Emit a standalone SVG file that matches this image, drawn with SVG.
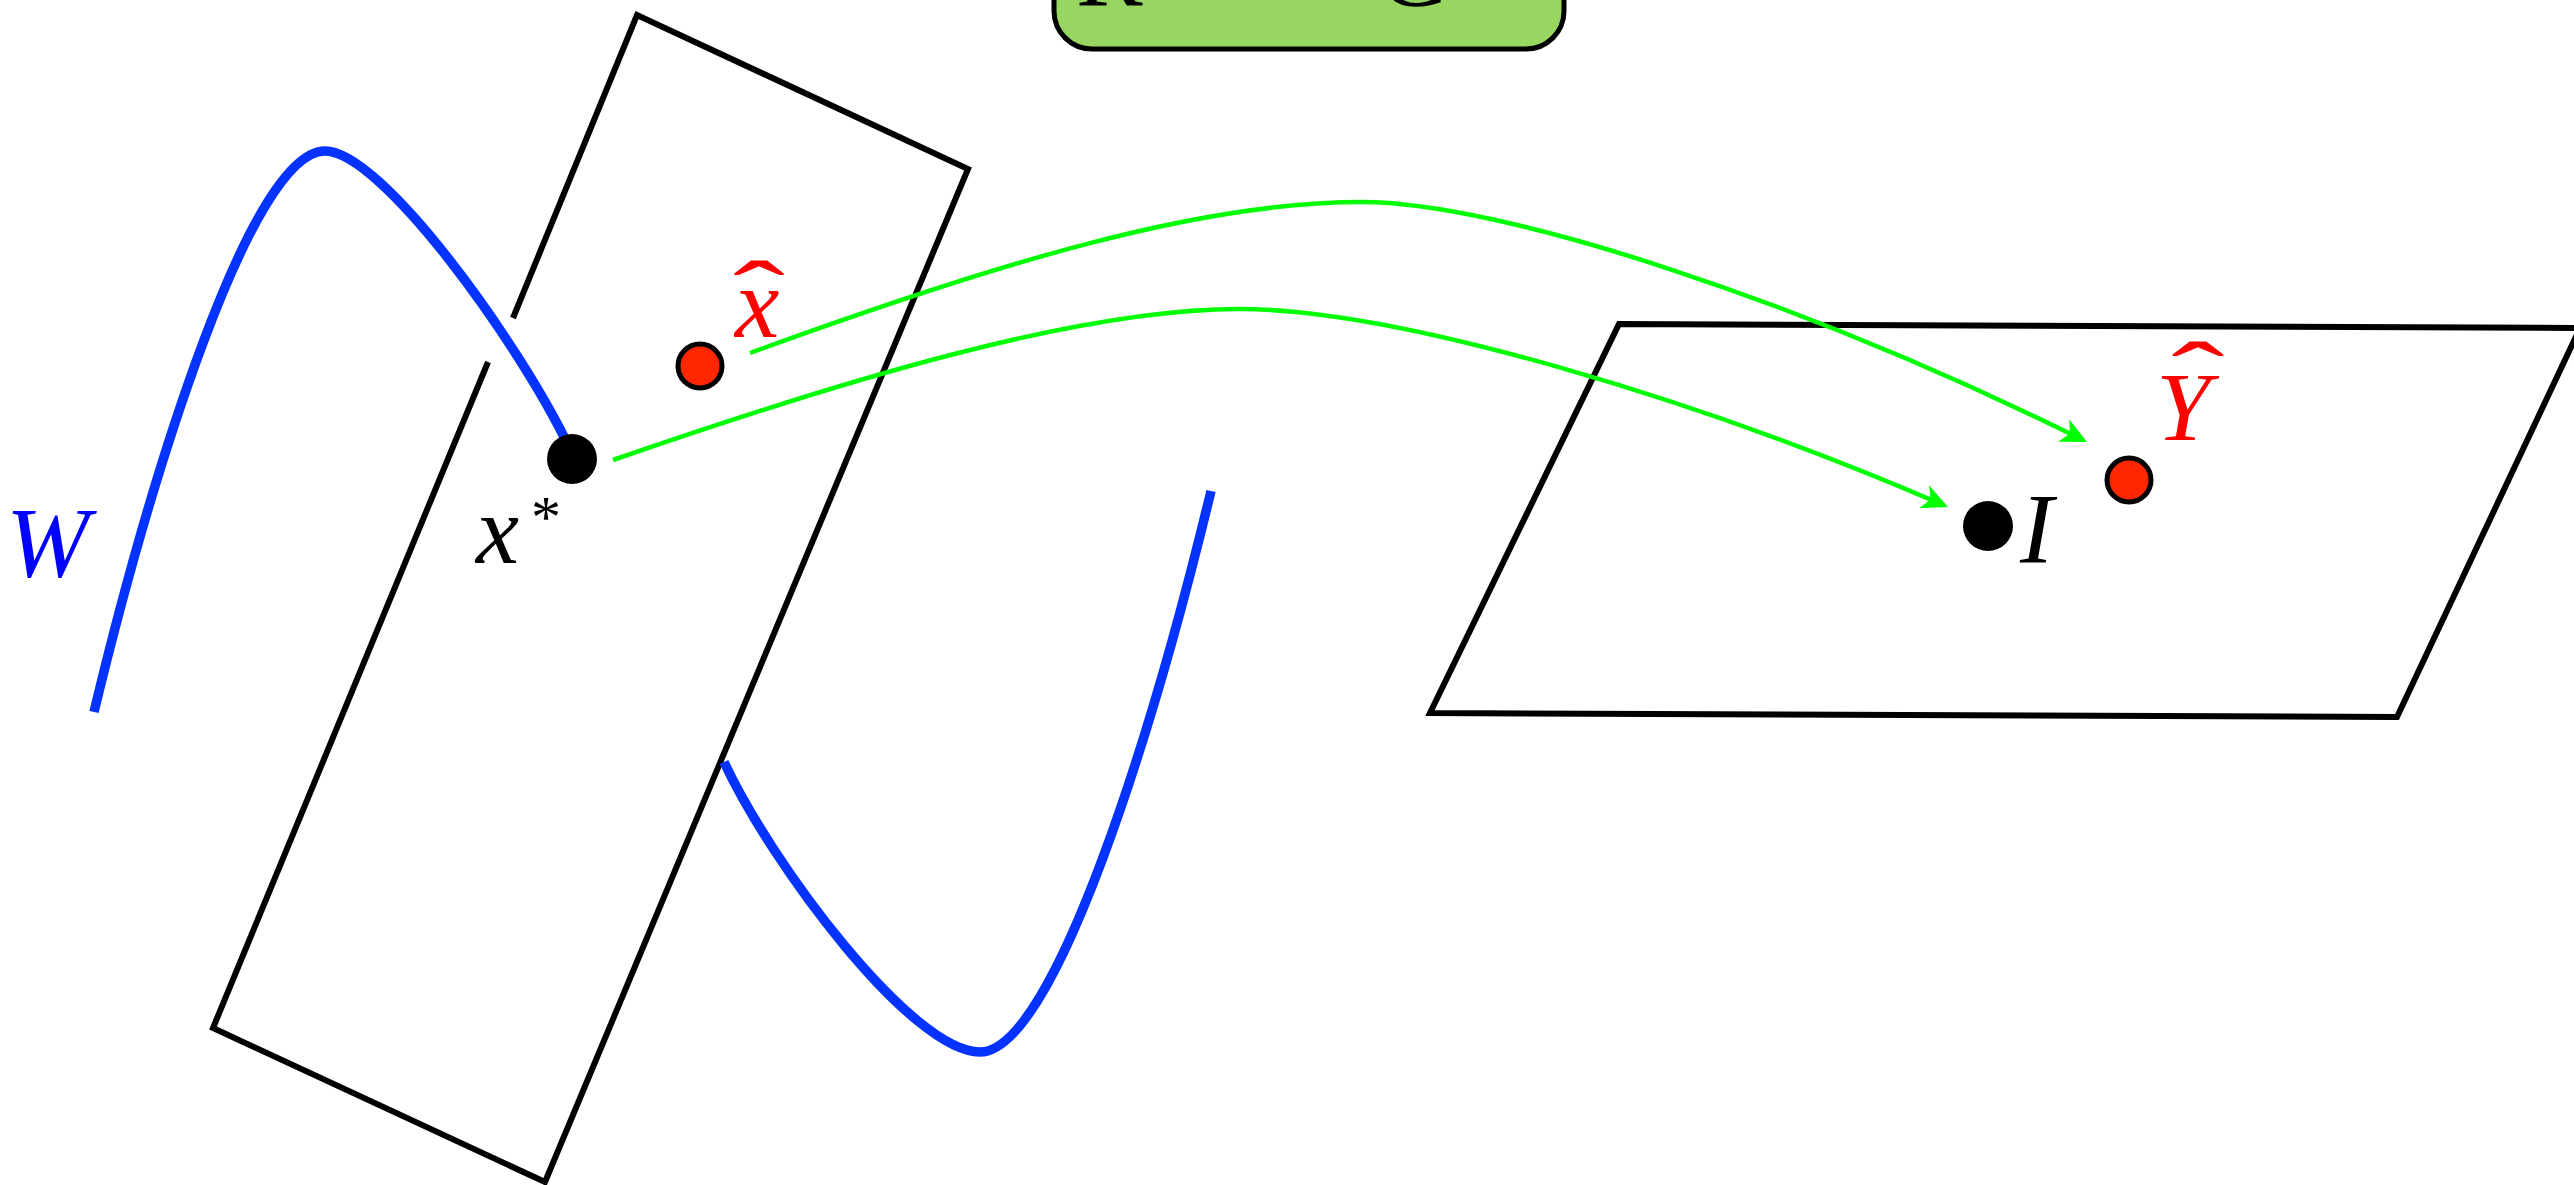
<svg xmlns="http://www.w3.org/2000/svg" width="2574" height="1185" viewBox="0 0 2574 1185">
<style>
.plane{fill:none;stroke:#000;stroke-width:6;stroke-linejoin:miter;stroke-linecap:butt}
.curve{fill:none;stroke:#0433FF;stroke-width:9.5;stroke-linecap:butt}
.conn{fill:none;stroke:#00FF00;stroke-width:4.5}
.lbl{font-family:"Liberation Serif",serif;font-style:italic}
.red{fill:#FF0000}
.dotred{fill:#FF2600;stroke:#000;stroke-width:5}
</style>
<defs>
<marker id="arr" markerUnits="userSpaceOnUse" markerWidth="40" markerHeight="40" viewBox="-30 -20 40 40" refX="0" refY="0" orient="auto">
<path d="M 4 0 L -22 -12.5 L -15 0 L -22 12.5 Z" fill="#00FF00"/>
</marker>
</defs>
<rect width="2574" height="1185" fill="#fff"/>

<g id="top-box">
<rect x="1054" y="-60" width="510" height="109" rx="38" ry="38" fill="#97D660" stroke="#000" stroke-width="5"/>
<text x="1076" y="5" font-family="Liberation Serif, serif" font-size="100">R</text>
<text x="1378" y="5" font-family="Liberation Serif, serif" font-size="100">G</text>
</g>

<g id="plane-left">
<path class="plane" d="M 513 318 L 637 15 L 968 169 L 545 1182 L 213 1028 L 488 362"/>
</g>
<g id="plane-right">
<path class="plane" d="M 1619 324 L 2580 328 L 2397 717 L 1430 713 Z"/>
</g>

<g id="manifold-W">
<path class="curve" d="M 94 712 C 150 480 250 151 325 151 C 382 151 520 345 568 445"/>
<path class="curve" d="M 724 762 C 772 865 912 1052 980 1052 C 1055 1052 1155 723 1211 491"/>
<text class="lbl" x="6" y="576" font-size="100" fill="#0000FF">W</text>
</g>

<g id="connectors">
<path class="conn" d="M 750 353 C 1000 262 1200 202 1362 202 C 1500 202 1800 300 2083.4 440.2" marker-end="url(#arr)"/>
<path class="conn" d="M 613 460 C 850 378 1080 309 1239 309 C 1400 309 1700 400 1944.3 505.4" marker-end="url(#arr)"/>
</g>

<g id="node-xstar">
<circle cx="572" cy="459" r="25" fill="#000"/>
<text class="lbl" x="476" y="563" font-size="97">x</text>
<text x="531" y="537" font-family="Liberation Serif, serif" font-size="60">*</text>
</g>

<g id="node-xhat">
<circle class="dotred" cx="700" cy="366" r="22"/>
<text class="lbl red" x="735" y="337" font-size="100">x</text>
<text class="red" font-family="Liberation Serif, serif" font-size="80" text-anchor="middle" transform="translate(759 327) scale(1.95 1.2)">ˆ</text>
</g>

<g id="node-I">
<circle cx="1988" cy="526" r="25" fill="#000"/>
<text class="lbl" x="2020" y="562" font-size="100">I</text>
</g>

<g id="node-Yhat">
<circle class="dotred" cx="2129" cy="480" r="22"/>
<text class="lbl red" x="2156" y="440" font-size="98">Y</text>
<text class="red" font-family="Liberation Serif, serif" font-size="80" text-anchor="middle" transform="translate(2198 408) scale(2 1.2)">ˆ</text>
</g>
</svg>
